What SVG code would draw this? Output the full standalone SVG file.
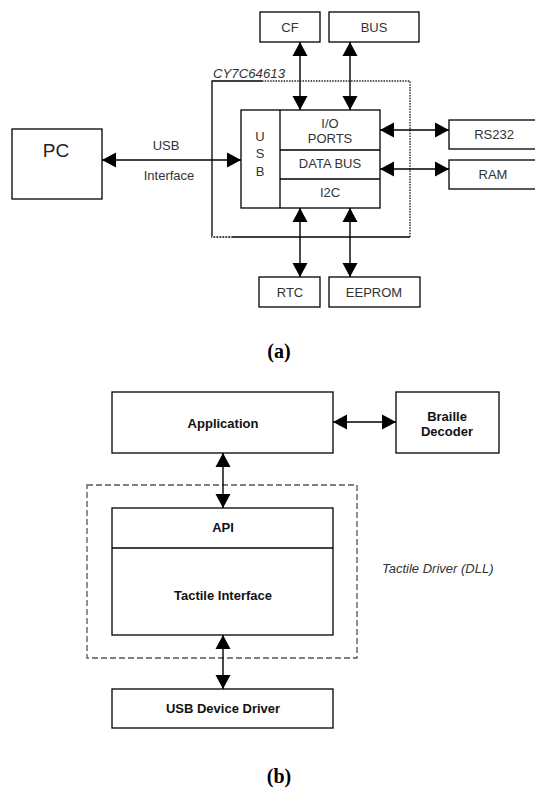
<svg xmlns="http://www.w3.org/2000/svg" width="535" height="789" viewBox="0 0 535 789">
<style>
.box{fill:#fff;stroke:#000;stroke-width:1.3}
.ln{fill:none;stroke:#000;stroke-width:1.3}
.conn{fill:none;stroke:#000;stroke-width:1.4;marker-start:url(#ah);marker-end:url(#ah)}
.ta{font-family:"Liberation Sans",Arial,sans-serif;font-size:13px;fill:#333;text-anchor:middle}
.tb{font-family:"Liberation Sans",Arial,sans-serif;font-size:13px;font-weight:bold;fill:#111;text-anchor:middle}
.cap{font-family:"Liberation Serif","Times New Roman",serif;font-size:20px;font-weight:bold;fill:#000;text-anchor:middle}
</style>
<defs>
<marker id="ah" markerUnits="userSpaceOnUse" markerWidth="15" markerHeight="16" refX="14" refY="8" orient="auto-start-reverse" viewBox="0 0 15 16">
<path d="M0,0.5 L14,8 L0,15.5 z" fill="#000"/>
</marker>
</defs>
<rect width="535" height="789" fill="#fff"/>

<!-- (a) -->
<g id="cy7c64613-boundary">
<path class="ln" d="M262,81 L212,81 L212,237 L233,237"/>
<path d="M233,237 L410,237" class="ln"/>
<path d="M262,81 L410,81 L410,237" fill="none" stroke="#222" stroke-width="1.4" stroke-dasharray="1.5,1.2"/>
<path d="M212,237 L233,237" fill="none" stroke="#fff" stroke-width="1.4" stroke-dasharray="1.5,1.5"/>
<text x="213" y="78" font-family="'Liberation Sans',Arial,sans-serif" font-size="12.5" font-style="italic" fill="#333" textLength="72" lengthAdjust="spacingAndGlyphs">CY7C64613</text>
</g>
<g id="pc"><rect class="box" x="12" y="129" width="90" height="70"/><text x="56" y="157" font-family="'Liberation Sans',Arial,sans-serif" font-size="19" fill="#222" text-anchor="middle">PC</text></g>
<g id="cf"><rect class="box" x="260" y="12" width="60" height="30"/><text class="ta" x="290" y="32">CF</text></g>
<g id="bus"><rect class="box" x="329" y="12" width="90" height="30"/><text class="ta" x="374" y="32">BUS</text></g>
<g id="chip">
<rect class="box" x="241" y="110" width="139" height="98"/>
<path class="ln" d="M280,110 V208 M280,150 H380 M280,179 H380"/>
<text class="ta" x="260" y="141">U</text>
<text class="ta" x="260" y="158">S</text>
<text class="ta" x="260" y="176">B</text>
<text class="ta" x="330" y="128">I/O</text>
<text class="ta" x="330" y="143">PORTS</text>
<text class="ta" x="330" y="168">DATA BUS</text>
<text class="ta" x="330" y="197">I2C</text>
</g>
<g id="rs232"><rect class="box" x="449" y="120" width="100" height="29"/><text class="ta" x="494" y="139">RS232</text></g>
<g id="ram"><rect class="box" x="449" y="160" width="100" height="29"/><text class="ta" x="493" y="179">RAM</text></g>
<g id="rtc"><rect class="box" x="259" y="277" width="61" height="30"/><text class="ta" x="290" y="297">RTC</text></g>
<g id="eeprom"><rect class="box" x="329" y="277" width="91" height="30"/><text class="ta" x="374" y="297">EEPROM</text></g>
<g id="usb-label"><text class="ta" x="166" y="150">USB</text><text class="ta" x="169" y="180">Interface</text></g>
<text class="cap" x="279" y="358">(a)</text>

<!-- (b) -->
<g id="tactile-driver-boundary">
<rect x="87" y="485" width="270" height="173" fill="none" stroke="#555" stroke-width="1.3" stroke-dasharray="6,3"/>
<text x="382" y="573" font-family="'Liberation Sans',Arial,sans-serif" font-size="13" font-style="italic" fill="#333">Tactile Driver (DLL)</text>
</g>
<g id="application"><rect class="box" x="112" y="392" width="221" height="61"/><text class="tb" x="223" y="428">Application</text></g>
<g id="braille-decoder"><rect class="box" x="396" y="392" width="103" height="61"/><text class="tb" x="447" y="421">Braille</text><text class="tb" x="447" y="436">Decoder</text></g>
<g id="api-tactile">
<rect class="box" x="112" y="508" width="221" height="127"/>
<path class="ln" d="M112,548 H333"/>
<text class="tb" x="223" y="532">API</text>
<text class="tb" x="223" y="600">Tactile Interface</text>
</g>
<g id="usb-device-driver"><rect class="box" x="112" y="689" width="221" height="39"/><text class="tb" x="223" y="713">USB Device Driver</text></g>
<text class="cap" x="279" y="783">(b)</text>

<g id="connectors">
<path class="conn" d="M102,160 H241"/>
<path class="conn" d="M300,42 V110"/>
<path class="conn" d="M350,42 V110"/>
<path class="conn" d="M380,130 H449"/>
<path class="conn" d="M380,169 H449"/>
<path class="conn" d="M300,208 V277"/>
<path class="conn" d="M350,208 V277"/>
<path class="conn" d="M333,422 H396"/>
<path class="conn" d="M223,453 V508"/>
<path class="conn" d="M223,635 V689"/>
</g>
</svg>
